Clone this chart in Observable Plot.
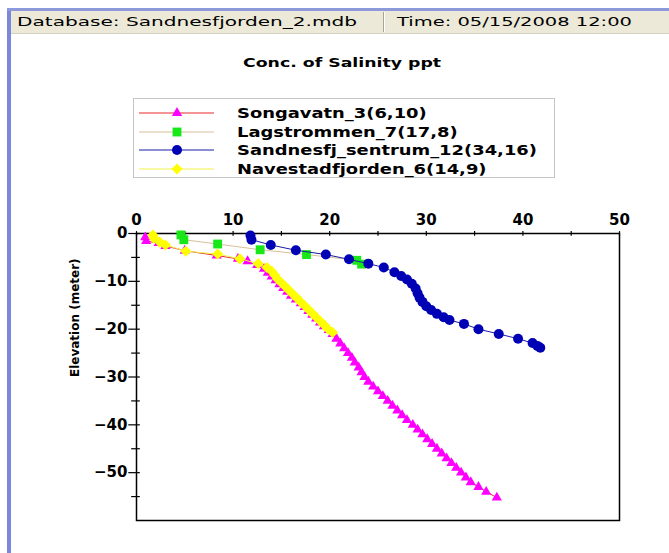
<!DOCTYPE html>
<html>
<head>
<meta charset="utf-8">
<script src="https://cdn.jsdelivr.net/npm/d3@7"></script>
<script src="https://cdn.jsdelivr.net/npm/@observablehq/plot@0.6"></script>
<style>
  html, body { margin: 0; padding: 0; background: #fff; }
  #page { position: relative; width: 669px; height: 553px; overflow: hidden; background: #fff; font-family: "DejaVu Sans", sans-serif; }
  .abs { position: absolute; white-space: nowrap; }
  .fit { display: inline-block; transform-origin: 0 50%; }
</style>
</head>
<body>
<div id="page">
  <div class="abs" style="left:7px;top:9px;width:4px;height:544px;background:#7b87d8;"></div>
  <div class="abs" style="left:7px;top:8px;width:662px;height:3px;background:#8e99dc;"></div>
  <div class="abs" style="left:11px;top:11px;width:658px;height:22px;background:#ece9d8;border-bottom:1px solid #d6d2c2;"></div>
  <div class="abs" style="left:383px;top:12px;width:1px;height:20px;background:#a8a595;"></div>
  <div class="abs" style="left:384px;top:12px;width:1px;height:20px;background:#fff;"></div>
  <div class="abs" style="left:17px;top:13px;font-size:13px;line-height:17px;color:#000;"><span class="fit" data-w="340">Database: Sandnesfjorden_2.mdb</span></div>
  <div class="abs" style="left:397px;top:13px;font-size:13px;line-height:17px;color:#000;"><span class="fit" data-w="235">Time: 05/15/2008 12:00</span></div>
  <div class="abs" style="left:243px;top:54px;font-size:13px;font-weight:bold;line-height:17px;color:#000;"><span class="fit" data-w="198">Conc. of Salinity ppt</span></div>
  <div id="legend" class="abs" style="left:133px;top:98px;width:420px;height:78px;border:1px solid #c4c4c4;background:#fff;"></div>
  <div id="chart" class="abs" style="left:0;top:190px;"></div>
</div>
<script>
// ---- data ----
const seriesNames = ["Songavatn_3(6,10)", "Lagstrommen_7(17,8)", "Sandnesfj_sentrum_12(34,16)", "Navestadfjorden_6(14,9)"];

const songX = [0.9, 1.0, 2.3, 3.0, 5.0, 8.3, 10.5, 11.5, 12.5, 13.2, 13.6, 14.0, 14.4, 14.8, 15.2, 15.6, 16.0, 16.5, 17.0, 17.4, 17.8, 18.2, 18.6, 19.0, 19.4, 19.9, 20.3, 20.7, 21.1, 21.5, 21.9, 22.3, 22.6, 23.0, 23.3, 23.6, 24.0, 24.5, 25.0, 25.5, 26.0, 26.5, 27.0, 27.5, 28.0, 28.6, 29.1, 29.6, 30.1, 30.6, 31.1, 31.6, 32.1, 32.6, 33.1, 33.6, 34.1, 34.6, 35.4, 36.2, 37.3];
const songY = [-0.8, -1.6, -2.0, -2.6, -3.6, -4.6, -5.3, -5.8, -6.6, -7.4, -8.2, -9.0, -9.8, -10.6, -11.4, -12.2, -13.0, -13.8, -14.6, -15.4, -16.2, -17.0, -17.8, -18.6, -19.4, -20.2, -21.0, -22.0, -23.0, -24.0, -25.0, -26.0, -27.0, -28.0, -29.0, -30.0, -31.0, -32.0, -33.0, -34.0, -35.0, -36.0, -37.0, -38.0, -39.0, -40.0, -41.0, -42.0, -43.0, -44.0, -45.0, -46.0, -47.0, -48.0, -49.0, -50.0, -51.0, -52.0, -53.0, -54.0, -55.2];

const lagX = [4.6, 4.9, 8.4, 12.8, 17.6, 22.8, 23.3];
const lagY = [-0.3, -1.3, -2.2, -3.4, -4.4, -5.6, -6.4];

const sandX = [11.8, 11.9, 13.9, 16.5, 19.6, 22.0, 24.0, 25.6, 26.7, 27.4, 28.0, 28.5, 28.9, 29.1, 29.3, 29.6, 30.0, 30.5, 31.1, 31.8, 32.4, 33.9, 35.4, 37.5, 39.5, 41.0, 41.5, 41.8];
const sandY = [-0.4, -1.3, -2.4, -3.5, -4.4, -5.4, -6.3, -7.1, -8.1, -8.9, -9.6, -10.5, -11.5, -12.5, -13.4, -14.3, -15.2, -16.0, -16.8, -17.5, -18.1, -18.9, -20.0, -21.0, -22.0, -22.9, -23.5, -23.9];

const naveX = [1.7, 1.8, 2.4, 3.0, 5.1, 8.4, 10.7, 12.6, 13.5, 14.0, 14.3, 14.6, 15.0, 15.4, 15.8, 16.2, 16.6, 17.0, 17.4, 17.8, 18.2, 18.6, 19.0, 19.4, 19.8, 20.3];
const naveY = [-0.3, -1.0, -1.8, -2.4, -3.7, -4.3, -5.3, -6.3, -7.1, -7.9, -8.7, -9.5, -10.3, -11.1, -11.9, -12.7, -13.5, -14.3, -15.1, -15.9, -16.7, -17.5, -18.3, -19.1, -19.9, -20.7];

const xMajor = [0, 10, 20, 30, 40, 50];
const xMinor = [5, 15, 25, 35, 45];
const yMajor = [0, -10, -20, -30, -40, -50];
const yMinor = [-5, -15, -25, -35, -45, -55];

// styles
const lineColors = ["#e8282c", "#d9bf9a", "#1a1aa6", "#f2f24a"];
const markColors = ["#ff00ff", "#18e818", "#0000b4", "#ffff00"];
const symbols = ["triangle", "square", "circle", "diamond2"];
const radii = [3.8, 5, 5, 5];

const toRows = (xs, ys) => xs.map((x, i) => ({x, y: ys[i]}));
const series = [toRows(songX, songY), toRows(lagX, lagY), toRows(sandX, sandY), toRows(naveX, naveY)];

const marks = [
  Plot.frame({stroke: "#000", strokeWidth: 1.5}),
  Plot.axisX({anchor: "top", ticks: xMajor, tickSize: 0, tickPadding: 9, label: null}),
  Plot.axisY({anchor: "left", ticks: yMajor, tickSize: 0, tickPadding: 9, label: null}),
  Plot.ruleX(xMajor.concat(xMinor), {y1: 0.4, y2: -0.6, stroke: "#000", strokeWidth: 1.2}),
  Plot.ruleY(yMajor, {x1: -0.8, x2: 0.4, stroke: "#000", strokeWidth: 1.2}),
  Plot.ruleY(yMinor, {x1: -0.5, x2: 0.4, stroke: "#000", strokeWidth: 1.2}),
  Plot.text(["Elevation (meter)"], {frameAnchor: "left", dx: -61, rotate: -90, fontSize: 12, fontWeight: "bold", fill: "#000"})
];
series.forEach((rows, i) => {
  marks.push(Plot.line(rows, {x: "x", y: "y", stroke: lineColors[i], strokeWidth: 1}));
  marks.push(Plot.dot(rows, {x: "x", y: "y", symbol: () => symbols[i], r: radii[i], fill: markColors[i], stroke: "none"}));
});

const chart = Plot.plot({
  width: 669,
  height: 363,
  marginTop: 43,
  marginLeft: 136,
  marginRight: 50,
  marginBottom: 33,
  x: {domain: [0, 50]},
  y: {domain: [-60, 0]},
  symbol: {type: "identity"},
  style: {fontFamily: "DejaVu Sans", fontSize: "15px", fontWeight: "bold", color: "#000", background: "transparent", overflow: "visible"},
  marks
});
document.getElementById("chart").appendChild(chart);

// legend
const lg = d3.select("#legend");
const rowsTop = [6, 25, 43, 62];
seriesNames.forEach((name, i) => {
  const svg = lg.append("svg").attr("width", 90).attr("height", 14)
    .style("position", "absolute").style("left", "5px").style("top", (rowsTop[i] + 1) + "px");
  svg.append("line").attr("x1", 0).attr("x2", 75).attr("y1", 7).attr("y2", 7).attr("stroke", lineColors[i]).attr("stroke-width", 1);
  const sym = {triangle: d3.symbolTriangle, square: d3.symbolSquare, circle: d3.symbolCircle, diamond2: d3.symbolDiamond2}[symbols[i]];
  const r = radii[i];
  svg.append("path").attr("transform", "translate(38,7)").attr("d", d3.symbol(sym, Math.PI * r * r)()).attr("fill", markColors[i]);
  lg.append("div").attr("class", "abs").style("left", "103px").style("top", rowsTop[i] + "px")
    .style("font-size", "14px").style("font-weight", "bold").style("line-height", "16px")
    .append("span").attr("class", "fit legtext").text(name);
});

// horizontal stretch of the screenshot text
document.querySelectorAll(".fit[data-w]").forEach(el => {
  const w = el.getBoundingClientRect().width;
  el.style.transform = `scaleX(${(+el.dataset.w / w).toFixed(3)})`;
});
const legEls = [...document.querySelectorAll(".legtext")];
const longest = legEls[2].getBoundingClientRect().width;
const k = 300 / longest;
legEls.forEach(el => el.style.transform = `scaleX(${k.toFixed(3)})`);
</script>
</body>
</html>
